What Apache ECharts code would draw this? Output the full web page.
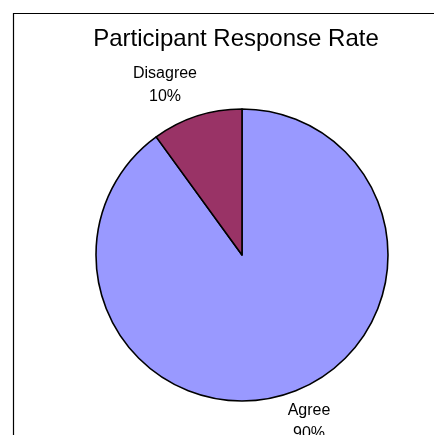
<!DOCTYPE html>
<html>
<head>
<meta charset="utf-8">
<script src="https://cdn.jsdelivr.net/npm/echarts@6/dist/echarts.min.js"></script>
<style>
  html, body { margin: 0; padding: 0; background: #fff; }
  #chart { width: 434px; height: 435px; }
</style>
</head>
<body>
<div id="chart"></div>
<script>
let categories = ['Agree', 'Disagree']; // 조각 이름
let values = [90, 10]; // 응답 비율 (%)
let colors = ['#9999FF', '#993366'];

// 라벨 위치 (조각별)
let labelPos = [[309, 422], [165, 85]];

window.onload = function() {
  var myChart = echarts.init(document.getElementById('chart'));
  var option = {
    backgroundColor: '#fff',
    animation: false,
    title: {
      text: 'Participant Response Rate',
      left: 231,
      top: 22,
      textAlign: 'center',
      textStyle: { fontFamily: 'Liberation Sans', fontSize: 24, fontWeight: 'normal', color: '#000' }
    },
    // 차트 영역 테두리 (위, 왼쪽만 보임)
    graphic: [{
      type: 'polyline',
      shape: { points: [[13.5, 440], [13.5, 13.5], [440, 13.5]] },
      style: { fill: null, stroke: '#000', lineWidth: 1.2 },
      silent: true
    }],
    series: [{
      type: 'pie',
      center: [242, 255],
      radius: 146,
      startAngle: 90,
      clockwise: true,
      data: categories.map(function(c, i) {
        return { name: c, value: values[i], itemStyle: { color: colors[i] } };
      }),
      itemStyle: { borderColor: '#000', borderWidth: 1.6 },
      label: {
        show: true,
        position: 'outside',
        formatter: '{b}\n{c}%',
        fontFamily: 'Liberation Sans',
        fontSize: 16,
        lineHeight: 23,
        color: '#000'
      },
      labelLine: { show: false },
      labelLayout: function(p) {
        return { x: labelPos[p.dataIndex][0], y: labelPos[p.dataIndex][1], align: 'center', verticalAlign: 'middle' };
      }
    }]
  };
  myChart.setOption(option);
};
</script>
</body>
</html>
